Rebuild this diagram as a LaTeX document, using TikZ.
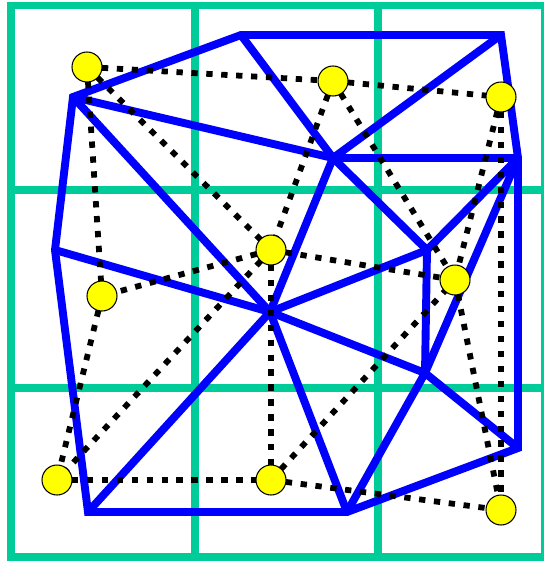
\documentclass[tikz,border=0pt]{standalone}
\usepackage{xcolor}
\usepackage{tikz}
\usetikzlibrary{positioning}
\definecolor{gridgreen}{HTML}{00CC99}
\definecolor{edgeblue}{HTML}{0000FF}
\definecolor{siteyellow}{HTML}{FFFF00}

\begin{document}
\begin{tikzpicture}[x=0.02cm,y=-0.02cm,
  grid/.style={draw=gridgreen,line width=4pt},
  edge/.style={draw=edgeblue,line width=4.5pt,line join=miter},
  dual/.style={draw=black,line width=3.3pt,dash pattern=on 3.6pt off 4.9pt},
  site/.style={circle,draw=black,line width=0.6pt,fill=siteyellow,minimum size=0.6cm,inner sep=0pt}
]
\useasboundingbox (0,0) rectangle (544,561);
% grid
\draw[grid] (11,5.5) rectangle (545,557);
\draw[grid] (195,5.5) -- (195,557); \draw[grid] (378,5.5) -- (378,557);
\draw[grid] (11,190) -- (545,190); \draw[grid] (11,388) -- (545,388);
% vertices
\coordinate (v1) at (73,97);
\coordinate (v2) at (241,35);
\coordinate (v3) at (501,35);
\coordinate (v4) at (518,158);
\coordinate (v5) at (333,158);
\coordinate (v6) at (55,250);
\coordinate (v7) at (270,312);
\coordinate (v8) at (427,250);
\coordinate (v9) at (425,373);
\coordinate (v10) at (518,448);
\coordinate (v11) at (347,512);
\coordinate (v12) at (88,512);
% blue edges
\draw[edge] (v1) -- (v2) -- (v3) -- (v4) -- (v10) -- (v11) -- (v12) -- (v6) -- cycle;
\draw[edge] (v1) -- (v5); \draw[edge] (v1) -- (v7);
\draw[edge] (v2) -- (v5); \draw[edge] (v3) -- (v5);
\draw[edge] (v5) -- (v4); \draw[edge] (v5) -- (v8); \draw[edge] (v5) -- (v7);
\draw[edge] (v4) -- (v8); \draw[edge] (v4) -- (v9);
\draw[edge] (v8) -- (v9);
\draw[edge] (v6) -- (v7); \draw[edge] (v7) -- (v8); \draw[edge] (v7) -- (v9);
\draw[edge] (v9) -- (v10);
\draw[edge] (v7) -- (v11); \draw[edge] (v7) -- (v12);
\draw[edge] (v9) -- (v11);
% sites
\coordinate (c1) at (87,67);
\coordinate (c2) at (333,81);
\coordinate (c3) at (501,97);
\coordinate (c4) at (271,250);
\coordinate (c5) at (102,296);
\coordinate (c6) at (455,280);
\coordinate (c7) at (57,480);
\coordinate (c8) at (271,480);
\coordinate (c9) at (501,510);
% dotted edges
\draw[dual] (c1) -- (c2); \draw[dual] (c2) -- (c3);
\draw[dual] (c1) -- (c5); \draw[dual] (c1) -- (c4);
\draw[dual] (c2) -- (c4); \draw[dual] (c2) -- (c6);
\draw[dual] (c3) -- (c6); \draw[dual] (c3) -- (c9);
\draw[dual] (c6) -- (c9);
\draw[dual] (c4) -- (c5); \draw[dual] (c4) -- (c6);
\draw[dual] (c4) -- (c7); \draw[dual] (c4) -- (c8);
\draw[dual] (c5) -- (c7); \draw[dual] (c7) -- (c8);
\draw[dual] (c8) -- (c6); \draw[dual] (c8) -- (c9);
\foreach \i in {1,...,9} \node[site] (s\i) at (c\i) {};
\end{tikzpicture}
\end{document}
